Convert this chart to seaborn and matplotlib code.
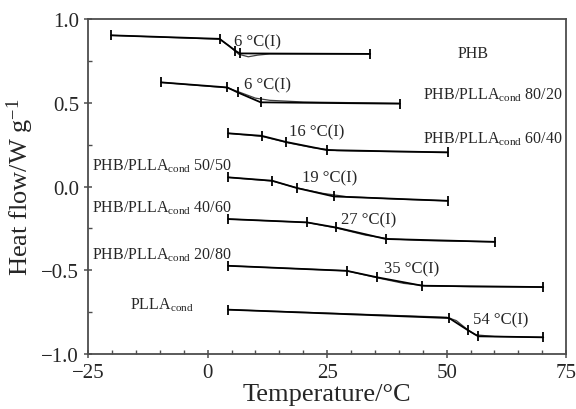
import numpy as np
import pandas as pd
import seaborn as sns
import matplotlib.pyplot as plt
from matplotlib.ticker import MultipleLocator

# Datos (temperatura en grados C, flujo de calor en W/g)
muestras = ['PHB', '80/20', '60/40', '50/50', '40/60', '20/80', 'PLLA']

# lineas de construccion (puntos marcados)
temp_marcas = {
    'PHB':   [-20.2, 2.5, 5.8, 6.7, 34.0],
    '80/20': [-9.7, 4.1, 6.3, 11.1, 40.2],
    '60/40': [4.3, 11.3, 16.3, 24.9, 50.2],
    '50/50': [4.3, 13.5, 18.7, 26.4, 50.2],
    '40/60': [4.3, 20.8, 26.8, 37.3, 60.1],
    '20/80': [4.3, 29.1, 35.5, 44.9, 70.2],
    'PLLA':  [4.3, 50.5, 54.4, 56.6, 70.2],
}
flujo_marcas = {
    'PHB':   [0.903, 0.882, 0.811, 0.795, 0.792],
    '80/20': [0.622, 0.592, 0.562, 0.503, 0.495],
    '60/40': [0.318, 0.303, 0.267, 0.218, 0.204],
    '50/50': [0.055, 0.035, -0.009, -0.059, -0.085],
    '40/60': [-0.194, -0.214, -0.244, -0.313, -0.330],
    '20/80': [-0.473, -0.503, -0.542, -0.592, -0.600],
    'PLLA':  [-0.735, -0.785, -0.857, -0.894, -0.900],
}

# curva DSC medida
temp_curva = {
    'PHB':   [-20.2, 2.5, 4.5, 6.5, 8.5, 10.5, 13.0, 34.0],
    '80/20': [-9.7, 4.1, 7.0, 10.0, 13.0, 20.0, 40.2],
    '60/40': [4.3, 11.3, 17.0, 22.0, 27.0, 35.0, 50.2],
    '50/50': [4.3, 13.5, 19.0, 24.0, 29.0, 40.0, 50.2],
    '40/60': [4.3, 20.8, 27.0, 33.0, 38.0, 45.0, 60.1],
    '20/80': [4.3, 29.1, 36.0, 41.0, 46.0, 55.0, 70.2],
    'PLLA':  [4.3, 50.0, 52.0, 54.4, 56.0, 60.0, 70.2],
}
flujo_curva = {
    'PHB':   [0.903, 0.880, 0.840, 0.790, 0.775, 0.785, 0.792, 0.792],
    '80/20': [0.622, 0.590, 0.560, 0.528, 0.515, 0.505, 0.497],
    '60/40': [0.318, 0.300, 0.260, 0.232, 0.215, 0.210, 0.205],
    '50/50': [0.055, 0.033, -0.010, -0.040, -0.060, -0.075, -0.085],
    '40/60': [-0.194, -0.214, -0.248, -0.290, -0.312, -0.322, -0.330],
    '20/80': [-0.473, -0.503, -0.548, -0.578, -0.593, -0.598, -0.600],
    'PLLA':  [-0.735, -0.780, -0.800, -0.855, -0.885, -0.895, -0.900],
}

etiquetas = [r'PHB', r'PHB/PLLA$_{\rm cond}$ 80/20', r'PHB/PLLA$_{\rm cond}$ 60/40',
             r'PHB/PLLA$_{\rm cond}$ 50/50', r'PHB/PLLA$_{\rm cond}$ 40/60',
             r'PHB/PLLA$_{\rm cond}$ 20/80', r'PLLA$_{\rm cond}$']
etiquetas_x = [52.3, 45.1, 45.0, -24.1, -24.1, -24.1, -16.2]
etiquetas_y = [0.774, 0.525, 0.261, 0.101, -0.148, -0.433, -0.727]

tg_texto = ['6 °C(I)', '6 °C(I)', '16 °C(I)', '19 °C(I)', '27 °C(I)', '35 °C(I)', '54 °C(I)']
tg_x = [5.6, 7.7, 17.0, 19.8, 27.8, 36.8, 55.6]
tg_y = [0.842, 0.585, 0.304, 0.032, -0.221, -0.511, -0.818]

sns.set_style('ticks')
plt.rcParams['font.family'] = ['Liberation Serif', 'DejaVu Serif']
plt.rcParams['mathtext.fontset'] = 'custom'
plt.rcParams['mathtext.rm'] = 'Liberation Serif'
plt.rcParams['mathtext.it'] = 'Liberation Serif:italic'

df_marcas = pd.concat([pd.DataFrame({'T': temp_marcas[m], 'HF': flujo_marcas[m], 'muestra': m})
                       for m in muestras], ignore_index=True)
df_curva = pd.concat([pd.DataFrame({'T': temp_curva[m], 'HF': flujo_curva[m], 'muestra': m})
                      for m in muestras], ignore_index=True)

fig = plt.figure(figsize=(5.76, 4.10), dpi=100)
ax = fig.add_axes([0.153, 0.134, 0.830, 0.817])

sns.lineplot(data=df_curva, x='T', y='HF', units='muestra', estimator=None, sort=False,
             color='0.25', lw=0.9, ax=ax)
sns.lineplot(data=df_marcas, x='T', y='HF', units='muestra', estimator=None, sort=False,
             color='k', lw=1.3, marker='|', markersize=7, markeredgewidth=1.3,
             markeredgecolor='k', ax=ax)

for txt, x, y in zip(etiquetas, etiquetas_x, etiquetas_y):
    ax.text(x, y, txt, fontsize=11.5, ha='left', va='baseline')
for txt, x, y in zip(tg_texto, tg_x, tg_y):
    ax.text(x, y, txt, fontsize=12, ha='left', va='baseline')

ax.set_xlim(-25, 75)
ax.set_ylim(-1.0, 1.0)
ax.set_xticks([-25, 0, 25, 50, 75])
ax.set_yticks([-1.0, -0.5, 0.0, 0.5, 1.0])
ax.set_yticklabels(['−1.0', '−0.5', '0.0', '0.5', '1.0'])
ax.set_xticklabels(['−25', '0', '25', '50', '75'])
ax.xaxis.set_minor_locator(MultipleLocator(5))
ax.yaxis.set_minor_locator(MultipleLocator(0.25))
ax.tick_params(which='major', direction='inout', length=6, width=1.1, labelsize=15, color='0.3')
ax.tick_params(which='minor', direction='in', length=3, width=1.0, color='0.3')
for s in ax.spines.values():
    s.set_linewidth(1.3)
    s.set_color('0.3')

ax.set_xlabel('Temperature/°C', fontsize=19, labelpad=1)
ax.set_ylabel(r'Heat flow/W g$^{-1}$', fontsize=19, labelpad=4)

fig.savefig('out.png', dpi=100)
plt.close(fig)
